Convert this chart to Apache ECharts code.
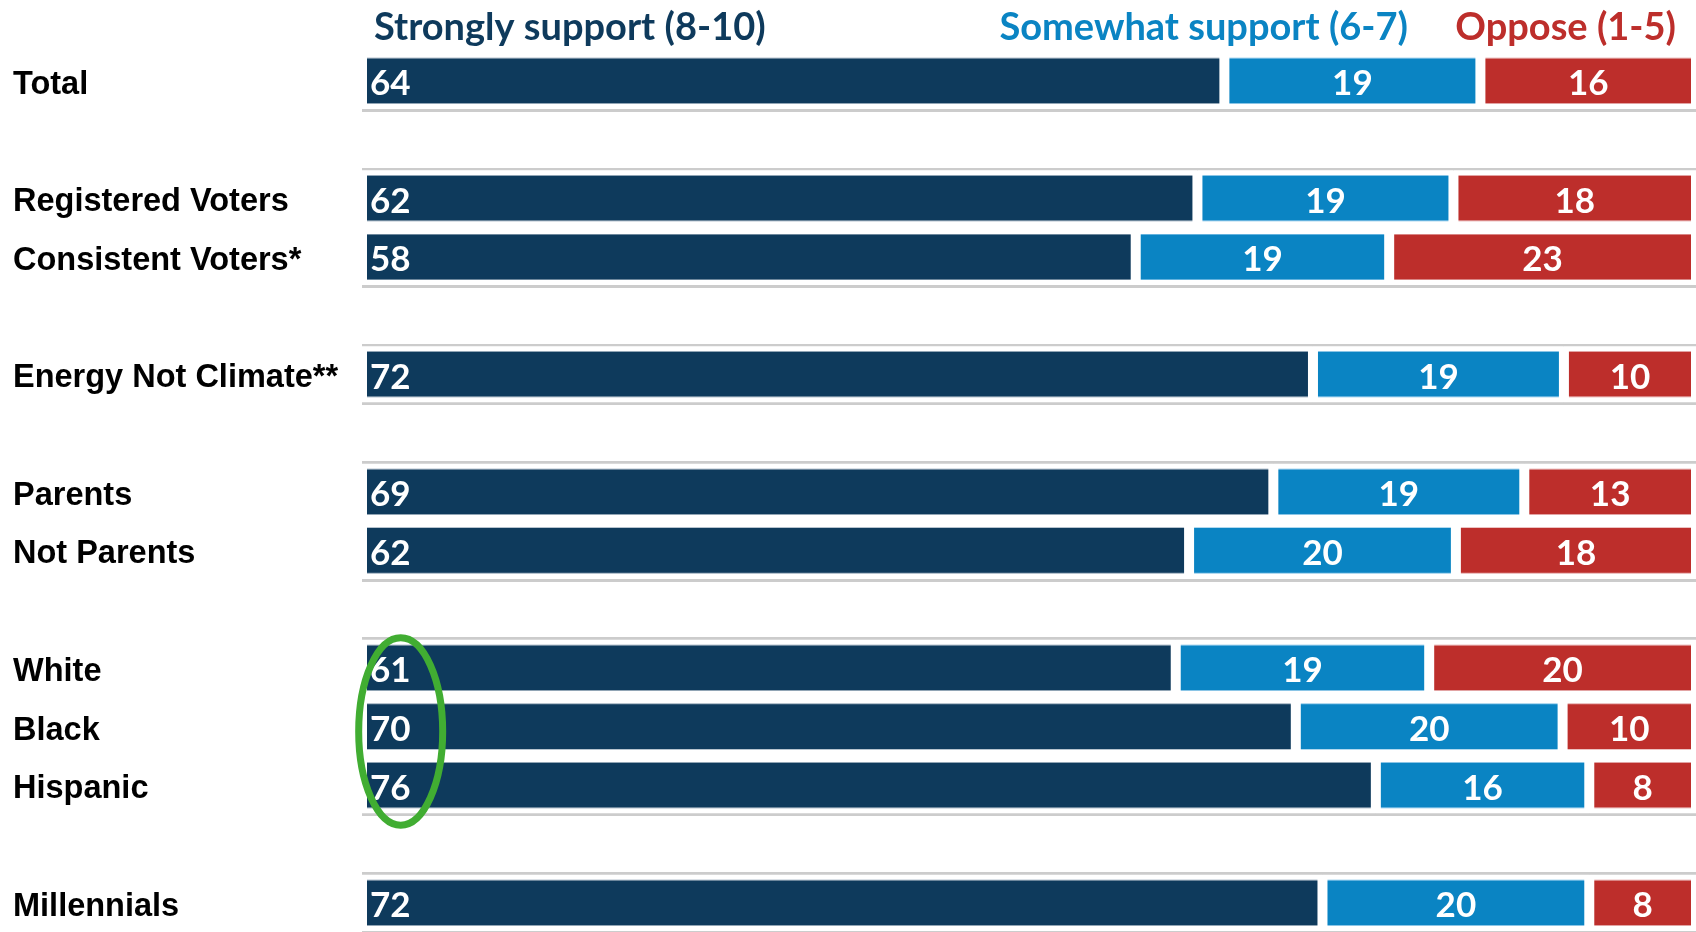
<!DOCTYPE html>
<html>
<head>
<meta charset="utf-8">
<script src="https://cdn.jsdelivr.net/npm/echarts@6/dist/echarts.min.js"></script>
<style>
  html, body { margin: 0; padding: 0; background: #ffffff; }
  #chart { width: 1696px; height: 932px; }
</style>
</head>
<body>
<div id="chart"></div>
<script>
// ---- data ----
const categories = ['Total', '', 'Registered Voters', 'Consistent Voters*', '', 'Energy Not Climate**', '', 'Parents', 'Not Parents', '', 'White', 'Black', 'Hispanic', '', 'Millennials'];
const seriesNames = ['Strongly support (8-10)', 'Somewhat support (6-7)', 'Oppose (1-5)'];
const strongly = [64, null, 62, 58, null, 72, null, 69, 62, null, 61, 70, 76, null, 72];
const somewhat = [19, null, 19, 19, null, 19, null, 19, 20, null, 19, 20, 16, null, 20];
const oppose   = [16, null, 18, 23, null, 10, null, 13, 18, null, 20, 10, 8, null, 8];
// annotation: highlighted rows (circled labels)
const circledRows = ['White', 'Black', 'Hispanic'];

// ---- styling ----
const colors = ['#0e3a5c', '#0a84c3', '#bd2e2b'];
const strips = ['#6d879c', '#63b2de', '#d98584'];
const raw = [strongly, somewhat, oppose];

// 100% stacked: share of each row total
function shares(arr) {
  return arr.map((v, i) => {
    if (v == null) return null;
    const t = strongly[i] + somewhat[i] + oppose[i];
    return v / t * 100;
  });
}

function grad(main, strip) {
  return new echarts.graphic.LinearGradient(0, 0, 0, 1, [
    { offset: 0, color: strip },
    { offset: 0.105, color: strip },
    { offset: 0.107, color: main },
    { offset: 0.893, color: main },
    { offset: 0.895, color: strip },
    { offset: 1, color: strip }
  ]);
}

const blankRows = categories.map((c, i) => c === '' ? i : -1).filter(i => i >= 0);
const lineTicks = new Set();
blankRows.forEach(i => { lineTicks.add(i); lineTicks.add(i + 1); });

const chart = echarts.init(document.getElementById('chart'));

const legendRight = [null, 288, 20];
const legends = seriesNames.map((name, k) => {
  const l = {
    data: [name],
    top: 9,
    padding: 0,
    itemWidth: 0,
    itemHeight: 0,
    itemGap: 0,
    selectedMode: false,
    textStyle: { color: colors[k], fontFamily: 'Lato', fontWeight: 'bold', fontSize: 38, padding: 0 }
  };
  if (k === 0) l.left = 368; else l.right = legendRight[k];
  return l;
});

const option = {
  backgroundColor: '#ffffff',
  animation: false,
  legend: legends,
  grid: { left: 362, top: 51.5, width: 1335, height: 885, containLabel: false },
  xAxis: { type: 'value', min: 0, max: 100, show: false },
  yAxis: {
    type: 'category',
    data: categories,
    inverse: true,
    axisLine: { show: false },
    axisTick: { show: false },
    axisLabel: {
      align: 'left',
      margin: 349,
      color: '#000000',
      fontFamily: 'Liberation Sans',
      fontWeight: 'bold',
      fontSize: 32.5,
      formatter: v => v ? '{c|' + v + '}' : '',
      rich: {
        c: {
          color: '#000000',
          fontFamily: 'Liberation Sans',
          fontWeight: 'bold',
          fontSize: 32.5,
          padding: [8, 0, 0, 0]
        }
      }
    },
    splitLine: {
      show: true,
      interval: function (index) { return lineTicks.has(index); },
      lineStyle: { color: '#cccccc', width: 3 }
    }
  },
  series: seriesNames.map((name, k) => ({
    name: name,
    type: 'bar',
    stack: 'total',
    barWidth: 56,
    data: shares(raw[k]),
    itemStyle: { color: grad(colors[k], strips[k]), borderColor: '#ffffff', borderWidth: 5 },
    label: {
      show: true,
      position: k === 0 ? 'insideLeft' : 'inside',
      distance: 8,
      offset: [0, 3],
      color: '#ffffff',
      fontFamily: 'Lato',
      fontWeight: 'bold',
      fontSize: 35,
      formatter: p => String(raw[k][p.dataIndex])
    }
  }))
};

chart.setOption(option);

// green ellipse annotation around the circled value labels, placed through the axes
const pTop = chart.convertToPixel({ gridIndex: 0 }, [2.9, circledRows[0]]);
const pMid = chart.convertToPixel({ gridIndex: 0 }, [2.9, circledRows[1]]);
const pBot = chart.convertToPixel({ gridIndex: 0 }, [2.9, circledRows[2]]);
chart.setOption({
  graphic: [{
    type: 'ellipse',
    z: 100,
    shape: { cx: pMid[0], cy: (pTop[1] + pBot[1]) / 2 + 5, rx: 42, ry: (pBot[1] - pTop[1]) / 2 + 35 },
    style: { fill: 'none', stroke: '#41ad32', lineWidth: 7 }
  }]
});
</script>
</body>
</html>
